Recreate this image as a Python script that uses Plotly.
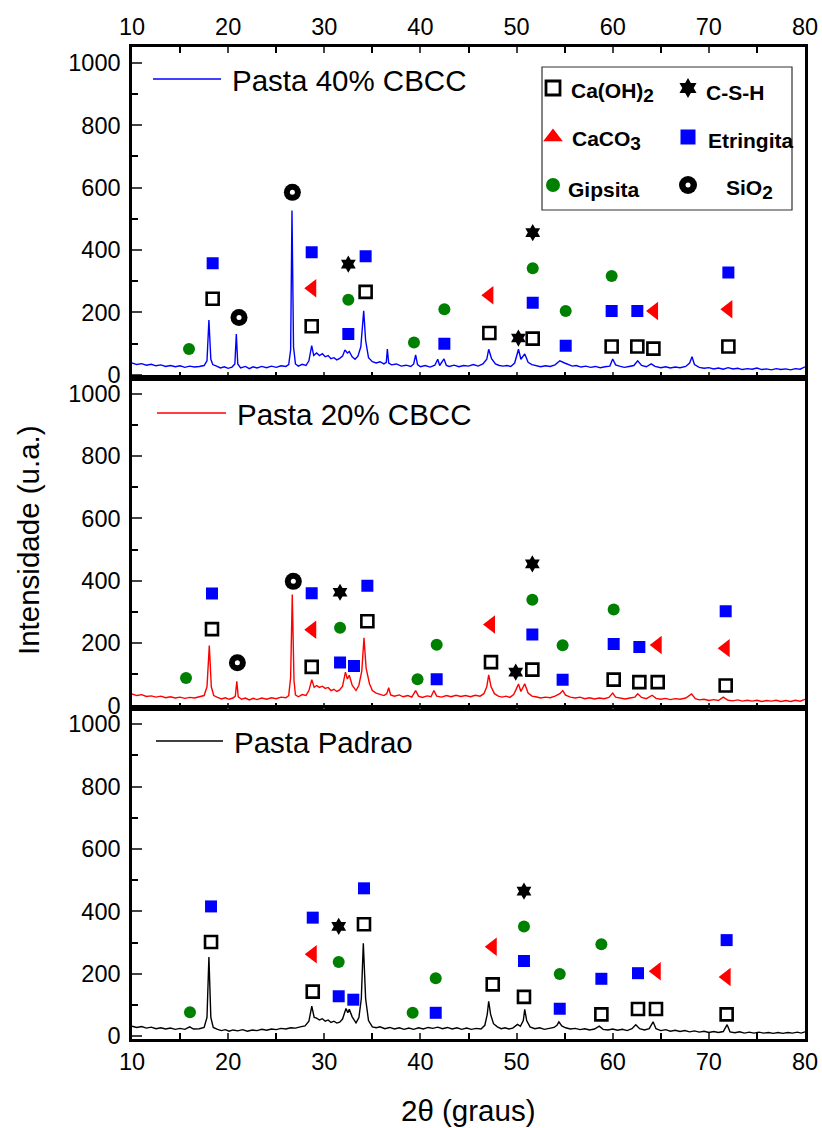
import plotly.graph_objects as go
from plotly.subplots import make_subplots

# ---------------- diffractograms: 2theta (deg) and intensity (a.u.) ----------------
tt_40 = [10.0, 10.5, 11.0, 11.5, 12.0, 12.5, 13.0, 13.5, 14.0, 14.5, 15.0, 15.5, 16.0, 16.5, 17.0, 17.5,
         17.8, 18.0, 18.2, 18.4, 18.8, 19.2, 19.6, 20.0, 20.4, 20.7, 20.85, 21.0, 21.3, 21.8, 22.2, 22.6,
         23.0, 23.5, 24.0, 24.5, 25.0, 25.5, 26.0, 26.3, 26.5, 26.64, 26.8, 27.0, 27.3, 27.7, 28.1, 28.4,
         28.69, 28.9, 29.2, 29.5, 29.8, 30.1, 30.4, 30.7, 31.0, 31.3, 31.6, 31.9, 32.15, 32.4, 32.6, 32.9,
         33.2, 33.5, 33.8, 34.1, 34.3, 34.6, 35.0, 35.4, 35.8, 36.2, 36.45, 36.56, 36.7, 37.0, 37.5, 38.0,
         38.5, 39.0, 39.3, 39.5, 39.7, 40.0, 40.5, 41.0, 41.5, 41.8, 42.0, 42.45, 42.7, 43.0, 43.5, 44.0,
         44.5, 45.0, 45.5, 46.0, 46.5, 46.9, 47.1, 47.4, 47.8, 48.2, 48.6, 49.0, 49.4, 49.8, 50.2, 50.45,
         50.85, 51.2, 51.6, 52.0, 52.5, 53.0, 53.5, 54.0, 54.5, 55.0, 55.4, 55.8, 56.2, 56.7, 57.2, 57.7,
         58.2, 58.7, 59.2, 59.7, 60.0, 60.3, 60.7, 61.2, 61.7, 62.2, 62.6, 63.0, 63.5, 64.0, 64.4, 65.0,
         65.5, 66.0, 66.5, 67.0, 67.6, 68.0, 68.25, 68.5, 69.0, 69.5, 70.0, 70.5, 71.0, 71.5, 72.0, 72.5,
         73.0, 73.5, 74.0, 74.5, 75.0, 75.5, 76.0, 76.5, 77.0, 77.5, 78.0, 78.5, 79.0, 79.5, 80.0]
i_40 = [38, 33, 36, 31, 34, 29, 32, 27, 30, 26, 29, 24, 28, 25, 27, 30,
        45, 176, 50, 33, 28, 22, 26, 21, 25, 35, 131, 35, 22, 27, 20, 26,
        22, 27, 23, 28, 24, 29, 27, 33, 80, 527, 90, 35, 28, 34, 30, 45,
        94, 62, 70, 62, 68, 58, 62, 52, 55, 48, 53, 60, 80, 70, 75, 58,
        50, 60, 90, 205, 110, 55, 42, 38, 42, 35, 40, 83, 38, 32, 35, 28,
        31, 27, 35, 64, 33, 26, 30, 25, 31, 50, 30, 51, 30, 27, 31, 26,
        30, 28, 33, 28, 35, 50, 82, 52, 35, 30, 28, 30, 27, 38, 82, 50,
        67, 40, 33, 30, 26, 29, 27, 32, 45, 38, 32, 28, 30, 25, 28, 24,
        27, 23, 26, 28, 51, 32, 28, 24, 27, 30, 45, 30, 26, 35, 27, 23,
        26, 22, 25, 23, 27, 38, 58, 33, 24, 21, 23, 19, 22, 18, 23, 19,
        21, 17, 20, 18, 22, 17, 19, 16, 20, 17, 19, 16, 20, 18, 26]

tt_20 = [10.0, 10.5, 11.0, 11.5, 12.0, 12.5, 13.0, 13.5, 14.0, 14.5, 15.0, 15.5, 16.0, 16.5, 17.0, 17.5,
         17.8, 18.04, 18.25, 18.5, 18.9, 19.3, 19.7, 20.1, 20.5, 20.75, 20.9, 21.05, 21.4, 21.8, 22.2, 22.6,
         23.0, 23.5, 24.0, 24.5, 25.0, 25.5, 26.0, 26.3, 26.5, 26.67, 26.85, 27.0, 27.3, 27.7, 28.1, 28.4,
         28.7, 28.95, 29.2, 29.5, 29.8, 30.1, 30.4, 30.7, 31.0, 31.3, 31.6, 31.9, 32.2, 32.4, 32.6, 32.9,
         33.3, 33.6, 33.9, 34.13, 34.35, 34.7, 35.0, 35.4, 35.8, 36.2, 36.5, 36.7, 36.9, 37.3, 37.8, 38.2,
         38.7, 39.1, 39.5, 39.8, 40.2, 40.7, 41.1, 41.4, 41.7, 42.2, 42.7, 43.2, 43.7, 44.2, 44.7, 45.2,
         45.7, 46.2, 46.6, 46.9, 47.1, 47.35, 47.7, 48.1, 48.5, 48.9, 49.3, 49.7, 50.0, 50.2, 50.45, 50.85,
         51.2, 51.6, 52.0, 52.5, 53.0, 53.5, 54.0, 54.5, 54.8, 55.1, 55.6, 56.1, 56.6, 57.1, 57.6, 58.1,
         58.6, 59.1, 59.6, 60.0, 60.3, 60.8, 61.3, 61.8, 62.3, 62.6, 63.0, 63.5, 64.1, 64.5, 65.0, 65.5,
         66.0, 66.5, 67.0, 67.6, 68.2, 68.6, 69.0, 69.5, 70.0, 70.5, 71.0, 71.5, 72.0, 72.5, 73.0, 73.5,
         74.0, 74.5, 75.0, 75.5, 76.0, 76.5, 77.0, 77.5, 78.0, 78.5, 79.0, 79.5, 80.0]
i_20 = [37, 32, 35, 29, 31, 27, 30, 25, 28, 24, 27, 23, 26, 24, 28, 32,
        60, 192, 60, 32, 26, 21, 25, 20, 24, 30, 78, 28, 20, 24, 18, 23,
        19, 24, 20, 25, 22, 27, 25, 32, 90, 356, 80, 34, 28, 35, 32, 48,
        83, 58, 64, 58, 62, 55, 58, 48, 52, 45, 50, 62, 107, 85, 97, 65,
        48, 65, 110, 217, 120, 70, 48, 40, 36, 32, 38, 57, 34, 30, 34, 28,
        32, 27, 48, 30, 26, 31, 28, 48, 30, 27, 32, 28, 33, 29, 32, 28,
        33, 30, 38, 60, 98, 60, 38, 30, 27, 30, 26, 35, 55, 69, 45, 70,
        40, 30, 28, 24, 27, 25, 30, 38, 48, 33, 27, 24, 27, 22, 25, 21,
        24, 22, 26, 40, 27, 23, 21, 24, 27, 38, 26, 22, 33, 23, 20, 23,
        19, 22, 20, 24, 37, 22, 18, 20, 16, 19, 16, 27, 17, 15, 18, 14,
        17, 14, 17, 13, 16, 14, 17, 13, 16, 13, 17, 14, 20]

tt_ref = [10.0, 10.5, 11.0, 11.5, 12.0, 12.5, 13.0, 13.5, 14.0, 14.5, 15.0, 15.5, 16.0, 16.4, 17.0, 17.5,
          17.8, 18.0, 18.2, 18.45, 18.9, 19.3, 19.7, 20.1, 20.5, 21.0, 21.5, 22.0, 22.5, 23.0, 23.5, 24.0,
          24.5, 25.0, 25.5, 26.0, 26.5, 27.0, 27.5, 28.0, 28.4, 28.7, 28.95, 29.2, 29.5, 29.8, 30.1, 30.4,
          30.7, 31.0, 31.3, 31.6, 31.9, 32.26, 32.45, 32.6, 32.9, 33.3, 33.6, 33.85, 34.06, 34.3, 34.6, 35.0,
          35.4, 35.8, 36.3, 36.8, 37.3, 37.8, 38.3, 38.8, 39.3, 39.8, 40.3, 40.8, 41.3, 41.8, 42.3, 42.8,
          43.3, 43.8, 44.3, 44.8, 45.3, 45.8, 46.3, 46.7, 46.95, 47.1, 47.3, 47.6, 48.0, 48.4, 48.8, 49.2,
          49.6, 50.1, 50.4, 50.7, 50.85, 51.05, 51.4, 51.9, 52.4, 52.9, 53.4, 53.9, 54.2, 54.4, 54.7, 55.1,
          55.6, 56.1, 56.6, 57.1, 57.6, 58.1, 58.6, 59.0, 59.5, 60.0, 60.5, 61.0, 61.5, 62.0, 62.4, 62.8,
          63.3, 63.8, 64.2, 64.5, 65.0, 65.5, 66.0, 66.5, 67.0, 67.5, 68.0, 68.5, 69.0, 69.5, 70.0, 70.5,
          71.0, 71.5, 71.9, 72.2, 72.7, 73.2, 73.7, 74.2, 74.7, 75.2, 75.7, 76.2, 76.7, 77.2, 77.7, 78.2,
          78.7, 79.2, 79.6, 80.0]
i_ref = [32, 28, 31, 26, 29, 24, 27, 23, 26, 22, 25, 22, 30, 23, 24, 28,
         60, 254, 60, 28, 22, 18, 21, 16, 20, 17, 21, 16, 20, 18, 22, 19,
         23, 21, 25, 23, 27, 26, 30, 33, 48, 96, 60, 58, 52, 56, 48, 52,
         44, 48, 42, 45, 55, 89, 75, 86, 62, 43, 60, 120, 298, 120, 50, 30,
         27, 30, 24, 28, 23, 27, 22, 26, 22, 27, 23, 28, 25, 29, 24, 28,
         23, 27, 22, 26, 22, 25, 23, 35, 70, 112, 70, 40, 30, 24, 27, 23,
         26, 38, 32, 50, 86, 50, 30, 24, 27, 22, 25, 28, 35, 46, 33, 27,
         23, 25, 21, 24, 20, 23, 32, 22, 20, 23, 19, 22, 18, 24, 37, 24,
         20, 24, 46, 24, 18, 21, 16, 19, 15, 18, 14, 17, 13, 16, 12, 15,
         12, 15, 37, 14, 11, 14, 10, 13, 10, 13, 10, 12, 9, 12, 9, 12,
         10, 13, 10, 14]

# ---------------- phase identification marks (2theta, intensity) ----------------
# Pasta 40% CBCC
caoh2_x_40 = [18.39, 28.69, 34.3, 47.17, 51.68, 59.89, 62.56, 64.23, 72.03]
caoh2_y_40 = [244, 156, 266, 134, 116, 91, 91, 84, 91]
csh_x_40 = [32.5, 50.19, 51.68]
csh_y_40 = [355, 118, 456]
caco3_x_40 = [28.75, 47.17, 64.3, 72.03]
caco3_y_40 = [278, 255, 205, 210]
ett_x_40 = [18.39, 28.69, 32.5, 34.3, 42.49, 51.68, 55.11, 59.89, 62.56, 72.03]
ett_y_40 = [358, 393, 131, 380, 100, 231, 93, 205, 205, 328]
gyp_x_40 = [15.93, 32.5, 39.33, 42.49, 51.68, 55.11, 59.89]
gyp_y_40 = [83, 241, 104, 210, 342, 205, 317]
sio2_x_40 = [21.13, 26.68]
sio2_y_40 = [184, 585]

# Pasta 20% CBCC
caoh2_x_20 = [18.32, 28.69, 34.48, 47.34, 51.64, 60.1, 62.77, 64.68, 71.75]
caoh2_y_20 = [245, 124, 270, 139, 115, 83, 75, 75, 64]
csh_x_20 = [31.64, 49.91, 51.64]
csh_y_20 = [363, 107, 454]
caco3_x_20 = [28.75, 47.34, 64.68, 71.75]
caco3_y_20 = [243, 260, 194, 184]
ett_x_20 = [18.32, 28.69, 31.64, 33.09, 34.48, 41.69, 51.64, 54.79, 60.1, 62.77, 71.75]
ett_y_20 = [359, 360, 138, 127, 384, 84, 228, 83, 197, 188, 302]
gyp_x_20 = [15.62, 31.64, 39.7, 41.69, 51.64, 54.79, 60.1]
gyp_y_20 = [88, 249, 84, 195, 339, 193, 308]
sio2_x_20 = [20.96, 26.78]
sio2_y_20 = [137, 398]

# Pasta Padrao
caoh2_x_ref = [18.22, 28.8, 34.13, 47.52, 50.77, 58.82, 62.63, 64.5, 71.85]
caoh2_y_ref = [302, 143, 359, 166, 126, 70, 87, 87, 70]
csh_x_ref = [31.5, 50.77]
csh_y_ref = [352, 465]
caco3_x_ref = [28.8, 47.52, 64.58, 71.85]
caco3_y_ref = [263, 287, 208, 190]
ett_x_ref = [18.22, 28.8, 31.5, 33.02, 34.13, 41.59, 50.77, 54.49, 58.82, 62.63, 71.85]
ett_y_ref = [416, 380, 128, 117, 474, 75, 241, 88, 184, 202, 308]
gyp_x_ref = [16.03, 31.5, 39.19, 41.59, 50.77, 54.49, 58.82]
gyp_y_ref = [77, 238, 75, 186, 352, 199, 295]

sample_names = ["Pasta 40% CBCC", "Pasta 20% CBCC", "Pasta Padrao"]
SUB = '<sub><span style="font-size:19px">{}</span></sub>'
phase_names = ["Ca(OH)" + SUB.format(2), "C-S-H", "CaCO" + SUB.format(3), "Etringita", "Gipsita",
               "SiO" + SUB.format(2)]
x_ticks = [10, 20, 30, 40, 50, 60, 70, 80]
y_ticks = [0, 200, 400, 600, 800, 1000]

# ---------------- styling ----------------
W, H = 822, 1128
ML, MR, MT, MB = 132, 17, 47, 89
FONT = "Liberation Sans, Arial, sans-serif"
BLUE, RED, GREEN, BLACK = "#0000ff", "#ff0000", "#008000", "#000000"
LINE_COLORS = [BLUE, RED, BLACK]
Y_RANGE = [-9, 1051]


def paper_x(px):
    return (px - ML) / (W - ML - MR)


def paper_y(py):
    return (H - MB - py) / (H - MT - MB)


fig = make_subplots(rows=3, cols=1, vertical_spacing=0)

patterns = [(tt_40, i_40), (tt_20, i_20), (tt_ref, i_ref)]
for row, (xs, ys) in enumerate(patterns, start=1):
    fig.add_trace(go.Scatter(x=xs, y=ys, mode="lines",
                             line=dict(color=LINE_COLORS[row - 1], width=1.4),
                             showlegend=False, hoverinfo="skip"), row=row, col=1)

marker_styles = {
    "caoh2": dict(symbol="square-open", size=12, color=BLACK, line=dict(color=BLACK, width=2.6)),
    "csh": dict(symbol="hexagram", size=13, color=BLACK, line=dict(width=0)),
    "caco3": dict(symbol="triangle-left", size=16, color=RED, line=dict(width=0)),
    "ett": dict(symbol="square", size=12, color=BLUE, line=dict(width=0)),
    "gyp": dict(symbol="circle", size=12, color=GREEN, line=dict(width=0)),
}

panel_marks = [
    {"caoh2": (caoh2_x_40, caoh2_y_40), "csh": (csh_x_40, csh_y_40), "caco3": (caco3_x_40, caco3_y_40),
     "ett": (ett_x_40, ett_y_40), "gyp": (gyp_x_40, gyp_y_40), "sio2": (sio2_x_40, sio2_y_40)},
    {"caoh2": (caoh2_x_20, caoh2_y_20), "csh": (csh_x_20, csh_y_20), "caco3": (caco3_x_20, caco3_y_20),
     "ett": (ett_x_20, ett_y_20), "gyp": (gyp_x_20, gyp_y_20), "sio2": (sio2_x_20, sio2_y_20)},
    {"caoh2": (caoh2_x_ref, caoh2_y_ref), "csh": (csh_x_ref, csh_y_ref), "caco3": (caco3_x_ref, caco3_y_ref),
     "ett": (ett_x_ref, ett_y_ref), "gyp": (gyp_x_ref, gyp_y_ref)},
]

for row, marks in enumerate(panel_marks, start=1):
    for key, (xs, ys) in marks.items():
        if key == "sio2":
            fig.add_trace(go.Scatter(x=xs, y=ys, mode="markers",
                                     marker=dict(symbol="circle", size=17, color=BLACK),
                                     showlegend=False, hoverinfo="skip"), row=row, col=1)
            fig.add_trace(go.Scatter(x=xs, y=ys, mode="markers",
                                     marker=dict(symbol="circle", size=5, color="white"),
                                     showlegend=False, hoverinfo="skip"), row=row, col=1)
        else:
            fig.add_trace(go.Scatter(x=xs, y=ys, mode="markers", marker=marker_styles[key],
                                     showlegend=False, hoverinfo="skip"), row=row, col=1)

# ---------------- axes ----------------
for row in (1, 2, 3):
    fig.update_yaxes(range=Y_RANGE, tickvals=y_ticks, ticks="inside", ticklen=10, tickwidth=2,
                     minor=dict(dtick=100, tick0=0, ticks="inside", ticklen=6, tickwidth=2,
                                tickcolor=BLACK, showgrid=False),
                     showline=True, linewidth=2.5, linecolor=BLACK, mirror=True,
                     showgrid=False, zeroline=False, automargin=False,
                     tickfont=dict(family=FONT, size=23.5, color=BLACK), ticklabelstandoff=4,
                     row=row, col=1)
    fig.update_xaxes(range=[10, 80], tickvals=x_ticks, ticks="inside", ticklen=6, tickwidth=2,
                     minor=dict(dtick=5, tick0=0, ticks="inside", ticklen=6, tickwidth=2,
                                tickcolor=BLACK, showgrid=False),
                     showline=True, linewidth=2.5, linecolor=BLACK,
                     mirror="ticks" if row == 1 else True,
                     side="top" if row == 1 else "bottom",
                     showticklabels=(row != 2),
                     showgrid=False, zeroline=False, automargin=False,
                     tickfont=dict(family=FONT, size=23.5, color=BLACK),
                     row=row, col=1)

# overlay axes in pixel units for the phase key inside the top panel
top_px = (MT, MT + (H - MT - MB) / 3)
fig.update_layout(
    xaxis4=dict(overlaying="x", range=[ML, W - MR], visible=False, fixedrange=True, automargin=False),
    yaxis4=dict(overlaying="y", range=[top_px[1], top_px[0]], visible=False, fixedrange=True,
                automargin=False),
)

key_rows = [88, 137, 185]
key_cols = [553, 688]
key_entries = [
    ("caoh2", 0, 0, dict(symbol="square-open", size=14, color=BLACK, line=dict(color=BLACK, width=2.8))),
    ("csh", 1, 0, dict(symbol="hexagram", size=15, color=BLACK)),
    ("caco3", 0, 1, dict(symbol="triangle-up", size=17, color=RED)),
    ("ett", 1, 1, dict(symbol="square", size=15, color=BLUE)),
    ("gyp", 0, 2, dict(symbol="circle", size=14, color=GREEN)),
]
for key, c, r, mk in key_entries:
    fig.add_trace(go.Scatter(x=[key_cols[c]], y=[key_rows[r]], mode="markers", marker=mk,
                             xaxis="x4", yaxis="y4", showlegend=False, hoverinfo="skip"))
fig.add_trace(go.Scatter(x=[key_cols[1]], y=[key_rows[2]], mode="markers",
                         marker=dict(symbol="circle", size=18, color=BLACK),
                         xaxis="x4", yaxis="y4", showlegend=False, hoverinfo="skip"))
fig.add_trace(go.Scatter(x=[key_cols[1]], y=[key_rows[2]], mode="markers",
                         marker=dict(symbol="circle", size=5, color="white"),
                         xaxis="x4", yaxis="y4", showlegend=False, hoverinfo="skip"))

shapes = [dict(type="rect", xref="paper", yref="paper",
               x0=paper_x(542), x1=paper_x(792), y0=paper_y(210), y1=paper_y(67),
               line=dict(color="#333333", width=1.2), fillcolor="rgba(0,0,0,0)")]
annotations = []

key_text_pos = [(569, 88, 0), (704, 88, 1), (570, 137, 2), (706, 137, 3), (566, 185, 4), (724, 185, 5)]
for px, py, k in key_text_pos:
    annotations.append(dict(xref="paper", yref="paper", x=paper_x(px), y=paper_y(py + 4),
                            text="<b>" + phase_names[k] + "</b>", showarrow=False,
                            xanchor="left", yanchor="middle",
                            font=dict(family=FONT, size=21, color=BLACK)))

# sample labels with line swatches
sample_pos = [(153, 221, 79, 230), (157, 226, 413, 235), (156, 223, 741, 232)]
for (x0, x1, yl, xt), name, col in zip(sample_pos, sample_names, LINE_COLORS):
    shapes.append(dict(type="line", xref="paper", yref="paper",
                       x0=paper_x(x0), x1=paper_x(x1), y0=paper_y(yl), y1=paper_y(yl),
                       line=dict(color=col, width=1.5)))
    annotations.append(dict(xref="paper", yref="paper", x=paper_x(xt), y=paper_y(yl + 1),
                            text=name, showarrow=False, xanchor="left", yanchor="middle",
                            font=dict(family=FONT, size=29.5, color=BLACK)))

# axis titles
annotations.append(dict(xref="paper", yref="paper", x=paper_x(28), y=paper_y(540),
                        text="Intensidade (u.a.)", textangle=-90, showarrow=False,
                        xanchor="center", yanchor="middle",
                        font=dict(family=FONT, size=29.5, color=BLACK)))
annotations.append(dict(xref="paper", yref="paper", x=paper_x(468), y=paper_y(1110),
                        text="2\u03b8 (graus)", showarrow=False,
                        xanchor="center", yanchor="middle",
                        font=dict(family=FONT, size=29.5, color=BLACK)))

fig.update_layout(
    width=W, height=H,
    margin=dict(l=ML, r=MR, t=MT, b=MB, autoexpand=False),
    paper_bgcolor="white", plot_bgcolor="white",
    shapes=shapes, annotations=annotations,
    showlegend=False,
    font=dict(family=FONT, color=BLACK),
)

fig.write_html("out.html")
